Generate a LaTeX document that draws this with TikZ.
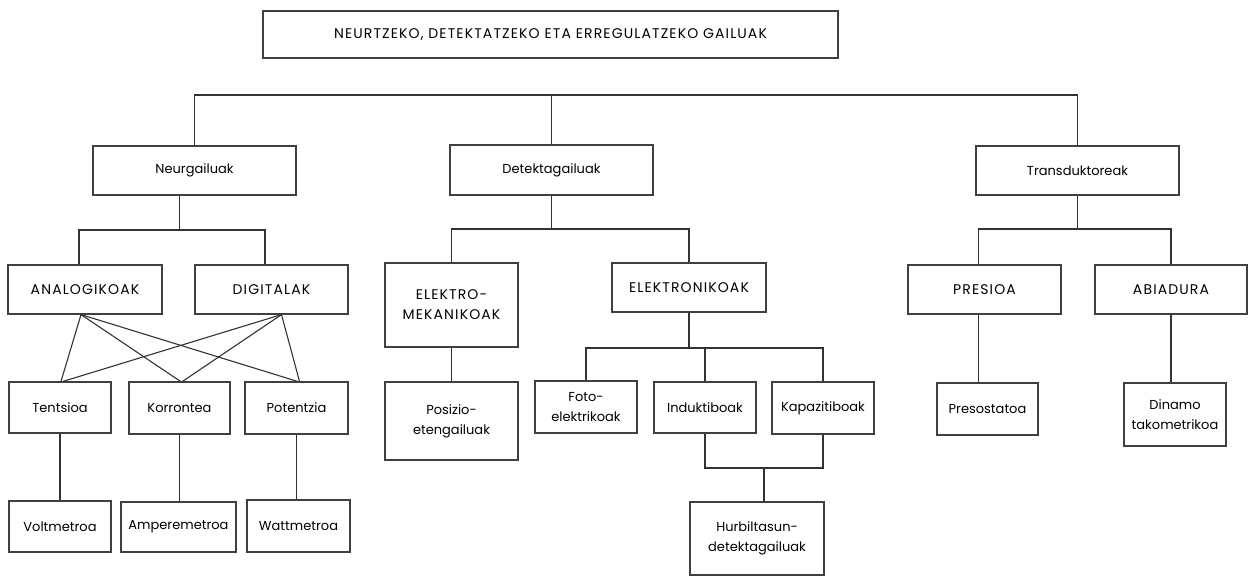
\documentclass[tikz,border=0pt]{standalone}
\usepackage{fontspec}
\setmainfont{Poppins}
\newfontfamily\capsfont[LetterSpace=8]{Poppins}
\usepackage{tikz}
\usetikzlibrary{calc}

\begin{document}
\begin{tikzpicture}[x=1pt,y=-1pt,
            every node/.style={font=\fontsize{13}{20}\selectfont},
            box/.style 2 args={draw=black!75,line width=1.2pt,inner sep=0pt,align=center,
                minimum width=#1pt,minimum height=#2pt},
            caps/.style={font=\fontsize{14}{20}\capsfont},
            line/.style={draw=black!80,line width=1.3pt}]
            \useasboundingbox (0,0) rectangle (1251,577);

            % boxes
            \node[box={575}{47},caps] (gailuak) at (550.5,34.5) {NEURTZEKO, DETEKTATZEKO ETA ERREGULATZEKO GAILUAK};

            \node[box={203}{49}] (neur) at (194.5,170.5) {Neurgailuak};
            \node[box={203}{50}] (detek) at (551.5,170) {Detektagailuak};
            \node[box={203}{49}] (trans) at (1077.5,170.5) {Transduktoreak};

            \node[box={154}{49},caps] (anal) at (85,289.5) {ANALOGIKOAK};
            \node[box={153}{49},caps] (digi) at (271.5,289.5) {DIGITALAK};
            \node[box={133}{84},caps] (elmek) at (451.5,305) {ELEKTRO-\\MEKANIKOAK};
            \node[box={154}{49},caps] (elekt) at (689,287.5) {ELEKTRONIKOAK};
            \node[box={153}{49},caps] (pres) at (984.5,289.5) {PRESIOA};
            \node[box={152}{49},caps] (abia) at (1171,289.5) {ABIADURA};

            \node[box={102}{51}] (tents) at (60,407.5) {Tentsioa};
            \node[box={101}{52}] (korr) at (179.5,408) {Korrontea};
            \node[box={103}{52}] (pot) at (296.5,408) {Potentzia};
            \node[box={133}{78}] (posiz) at (451.5,421) {Posizio-\\etengailuak};
            \node[box={102}{52}] (foto) at (586,407) {Foto-\\elektrikoak};
            \node[box={102}{51}] (induk) at (705,407.5) {Induktiboak};
            \node[box={102}{52}] (kapaz) at (823,408) {Kapazitiboak};
            \node[box={101}{52}] (presos) at (987.5,409) {Presostatoa};
            \node[box={102}{63}] (dinamo) at (1175,414.5) {Dinamo\\takometrikoa};

            \node[box={102}{51}] (volt) at (60,526.5) {Voltmetroa};
            \node[box={115}{50}] (amper) at (178.5,527) {Amperemetroa};
            \node[box={103}{52}] (watt) at (298.5,526) {Wattmetroa};
            \node[box={134}{73}] (hurb) at (757,538.5) {Hurbiltasun-\\detektagailuak};

            % top bus
            \draw[line] (neur.north) |- (trans.north |- 0,95) -- (trans.north);
            \draw[line] (detek.north) -- (detek.north |- 0,95);

            % Neurgailuak
            \draw[line] ([xshift=-15pt]neur.south) -- ++(0,35);
            \draw[line] ([xshift=-6pt]anal.north) |- ([xshift=-6.5pt]digi.north |- 0,230) -- ([xshift=-6.5pt]digi.north);
            \foreach \s in {tents,korr,pot} {
                \draw[line,line width=1.1pt] ([xshift=-4pt]anal.south) -- ([xshift=1pt]\s.north);
                \draw[line,line width=1.1pt] ([xshift=10pt]digi.south) -- ([xshift=3pt]\s.north);
            }
            \foreach \a/\b in {tents/volt,korr/amper,pot/watt,elmek/posiz,abia/dinamo}
                \draw[line] (\a.south) -- (\a.south |- \b.north);

            % Detektagailuak
            \draw[line] (detek.south) -- ++(0,34);
            \draw[line] (elmek.north) |- (elekt.north |- 0,229) -- (elekt.north);
            \draw[line] (elekt.south) -- ++(0,36);
            \draw[line] (foto.north) |- (kapaz.north |- 0,348) -- (kapaz.north);
            \draw[line] (induk.north) -- ++(0,-34);
            \draw[line] (induk.south) |- (kapaz.south |- 0,468) -- (kapaz.south);
            \draw[line] ($(induk.south |- 0,468)!0.5!(kapaz.south |- 0,468)$) -- ++(0,34);

            % Transduktoreak
            \draw[line] (trans.south) -- ++(0,34);
            \draw[line] ([xshift=-6pt]pres.north) |- (abia.north |- 0,229) -- (abia.north);
            \draw[line] ([xshift=-6pt]pres.south) -- ([xshift=-6pt]pres.south |- presos.north);
        \end{tikzpicture}
\end{document}
